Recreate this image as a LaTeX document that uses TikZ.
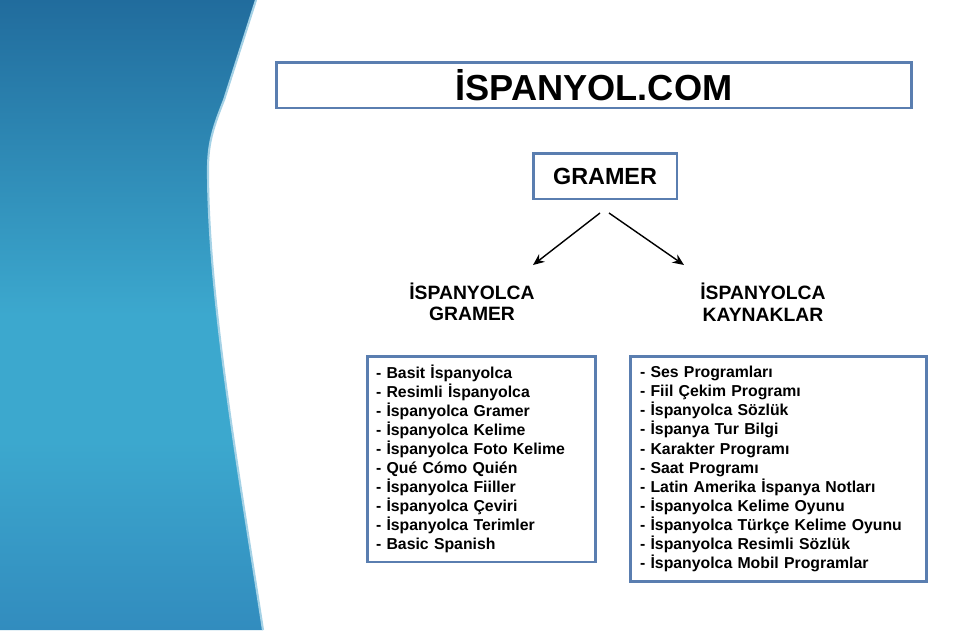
\documentclass[tikz,border=0pt]{standalone}
\usepackage{fontspec}
\setmainfont{Liberation Sans}
\usepackage{tikz}
\usetikzlibrary{positioning, arrows.meta}
\usepackage{xcolor}

\definecolor{boxblue}{RGB}{90,126,176}
\definecolor{paneltop}{RGB}{33,108,157}
\definecolor{panelmid}{RGB}{60,168,206}
\definecolor{panelbot}{RGB}{50,140,190}
\definecolor{paneledge}{RGB}{165,210,230}
\pgfdeclareverticalshading{panelshade}{100bp}{color(0bp)=(panelbot); color(25bp)=(panelbot); color(40bp)=(panelmid); color(50bp)=(panelmid); color(75bp)=(paneltop); color(100bp)=(paneltop)}

\begin{document}
\begin{tikzpicture}[x=0.02cm, y=-0.02cm, >={Stealth[length=6.5pt,width=5.5pt]},
                thick, node distance=1cm,
                box/.style={draw=boxblue, line width=1.7pt, fill=white},
                listbox/.style={box, align=left, inner xsep=0.18cm,
                    font=\fontsize{9}{10.85}\selectfont\bfseries},
                head/.style={align=center, font=\fontsize{11}{12.2}\selectfont\bfseries}]

                \useasboundingbox (0,0) rectangle (960,630);

                % left panel
                \shade[shading=panelshade] (0,0) -- (256,0) -- (224,100)
                    .. controls (212,130) and (208,145) .. (208,170)
                    .. controls (208,300) and (240,480) .. (263,630) -- (0,630) -- cycle;
                \draw[paneledge, line width=1.2pt] (256,0) -- (224,100)
                    .. controls (212,130) and (208,145) .. (208,170)
                    .. controls (208,300) and (240,480) .. (263,630);

                \node[box, minimum width=12.72cm, minimum height=0.92cm,
                      font=\fontsize{20.6}{22}\selectfont\bfseries] (site) at (594,85) {İSPANYOL.COM};
                \node[box, minimum width=2.88cm, minimum height=0.92cm,
                      font=\fontsize{13.3}{15}\selectfont\bfseries] (gramer) at (605,176) {GRAMER};

                \node[head] (hgram) at (472,302) {İSPANYOLCA\\GRAMER};
                \node[head] (hkayn) at (763,302) {İSPANYOLCA\\KAYNAKLAR};

                \coordinate (gl) at (600,213);
                \coordinate (gr) at (609,213);
                \coordinate (al) at (533,265);
                \coordinate (ar) at (684,265);

                \path[->]
                (gl) edge (al)
                (gr) edge (ar);

                \node[listbox, text width=4.22cm, minimum height=4.12cm] (lgram) at (481.5,459) {%
                    - Basit İspanyolca\\
                    - Resimli İspanyolca\\
                    - İspanyolca Gramer\\
                    - İspanyolca Kelime\\
                    - İspanyolca Foto Kelime\\
                    - Qué Cómo Quién\\
                    - İspanyolca Fiiller\\
                    - İspanyolca Çeviri\\
                    - İspanyolca Terimler\\
                    - Basic Spanish};
                \node[listbox, text width=5.54cm, inner xsep=0.2cm, minimum height=4.52cm] (lkayn) at (778.5,469) {%
                    - Ses Programları\\
                    - Fiil Çekim Programı\\
                    - İspanyolca Sözlük\\
                    - İspanya Tur Bilgi\\
                    - Karakter Programı\\
                    - Saat Programı\\
                    - Latin Amerika İspanya Notları\\
                    - İspanyolca Kelime Oyunu\\
                    - İspanyolca Türkçe Kelime Oyunu\\
                    - İspanyolca Resimli Sözlük\\
                    - İspanyolca Mobil Programlar};
            \end{tikzpicture}
\end{document}
